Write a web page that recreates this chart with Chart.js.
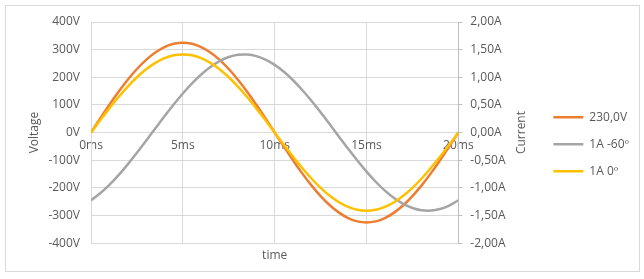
<!DOCTYPE html>
<html>
<head>
<meta charset="utf-8">
<script src="https://cdn.jsdelivr.net/npm/chart.js@4"></script>
<style>
  html, body { margin: 0; padding: 0; background: #fff; }
  #wrap { position: relative; width: 644px; height: 279px; }
  #frame { position: absolute; left: 5px; top: 5px; width: 635px; height: 267px; border: 1px solid #D9D9D9; box-sizing: border-box; pointer-events: none; }
  canvas { position: absolute; left: 0; top: 0; }
</style>
</head>
<body>
<div id="wrap">
  <canvas id="c" width="644" height="279"></canvas>
  <div id="frame"></div>
</div>
<script>
// time in ms
const times = [0,0.5,1,1.5,2,2.5,3,3.5,4,4.5,5,5.5,6,6.5,7,7.5,8,8.5,9,9.5,10,10.5,11,11.5,12,12.5,13,13.5,14,14.5,15,15.5,16,16.5,17,17.5,18,18.5,19,19.5,20];
// 230,0V (volts)
const voltage = [0,50.9,100.5,147.7,191.2,230.0,263.2,289.8,309.4,321.3,325.3,321.3,309.4,289.8,263.2,230.0,191.2,147.7,100.5,50.9,0,-50.9,-100.5,-147.7,-191.2,-230.0,-263.2,-289.8,-309.4,-321.3,-325.3,-321.3,-309.4,-289.8,-263.2,-230.0,-191.2,-147.7,-100.5,-50.9,0];
// 1A -60º (amps)
const currentM60 = [-1.225,-1.099,-0.946,-0.770,-0.575,-0.366,-0.148,0.074,0.294,0.507,0.707,0.890,1.051,1.186,1.292,1.366,1.406,1.412,1.383,1.320,1.225,1.099,0.946,0.770,0.575,0.366,0.148,-0.074,-0.294,-0.507,-0.707,-0.890,-1.051,-1.186,-1.292,-1.366,-1.406,-1.412,-1.383,-1.320,-1.225];
// 1A 0º (amps)
const current0 = [0,0.221,0.437,0.642,0.831,1.000,1.144,1.260,1.345,1.397,1.414,1.397,1.345,1.260,1.144,1.000,0.831,0.642,0.437,0.221,0,-0.221,-0.437,-0.642,-0.831,-1.000,-1.144,-1.260,-1.345,-1.397,-1.414,-1.397,-1.345,-1.260,-1.144,-1.000,-0.831,-0.642,-0.437,-0.221,0];
const seriesNames = ['230,0V', '1A -60º', '1A 0º'];

const pts = arr => times.map((t, i) => ({x: t, y: arr[i]}));
const FONT = {family: "'Open Sans', sans-serif", size: 12};
const TXT = '#595959';

// widen legend box slightly (moves legend items left)
const legendWiden = {
  id: 'legendWiden',
  afterInit(chart) {
    const lg = chart.legend;
    if (lg && !lg._widened) {
      const orig = lg.fit;
      lg.fit = function () { orig.call(this); this.width += 5; };
      lg._widened = true;
    }
  }
};
// right axis title, reading bottom-to-top
const rightTitle = {
  id: 'rightTitle',
  afterDraw(chart) {
    const s = chart.scales.y1, ca = chart.chartArea, ctx = chart.ctx;
    ctx.save();
    ctx.translate(s.right - 17, (ca.top + ca.bottom) / 2);
    ctx.rotate(-Math.PI / 2);
    ctx.font = "12px 'Open Sans', sans-serif";
    ctx.fillStyle = TXT;
    ctx.textAlign = 'center';
    ctx.textBaseline = 'middle';
    ctx.fillText('Current', 0, 0);
    ctx.restore();
  }
};

new Chart(document.getElementById('c'), {
  type: 'line',
  data: {
    datasets: [
      {label: seriesNames[0], data: pts(voltage), yAxisID: 'y', borderColor: '#ED7D31', backgroundColor: '#ED7D31', borderWidth: 2.5, order: 2},
      {label: seriesNames[1], data: pts(currentM60), yAxisID: 'y1', borderColor: '#A5A5A5', backgroundColor: '#A5A5A5', borderWidth: 2.5, order: 1},
      {label: seriesNames[2], data: pts(current0), yAxisID: 'y1', borderColor: '#FFC000', backgroundColor: '#FFC000', borderWidth: 2.5, order: 0}
    ]
  },
  plugins: [legendWiden, rightTitle],
  options: {
    responsive: false,
    animation: false,
    devicePixelRatio: 1,
    elements: {
      line: {borderWidth: 2.5, tension: 0.4, fill: false},
      point: {radius: 0}
    },
    layout: {padding: {left: 22, right: 0, top: 22, bottom: 12.5}},
    plugins: {
      tooltip: {enabled: false},
      legend: {
        position: 'right',
        labels: {
          usePointStyle: true,
          pointStyle: 'line',
          pointStyleWidth: 30,
          padding: 15,
          color: TXT,
          font: FONT,
          sort: (a, b) => a.datasetIndex - b.datasetIndex
        }
      }
    },
    scales: {
      x: {
        type: 'linear',
        position: {y: 0},
        min: 0, max: 20,
        ticks: {stepSize: 5, color: TXT, font: FONT, padding: 6, maxRotation: 0, callback: v => v + 'ms'},
        grid: {color: '#D9D9D9', drawTicks: false},
        border: {display: false}
      },
      x2: {
        type: 'linear',
        position: 'bottom',
        min: 0, max: 20,
        ticks: {display: false},
        grid: {display: false, drawTicks: false},
        border: {display: false},
        title: {display: true, text: 'time', color: TXT, font: FONT, padding: {top: 5, bottom: 4}}
      },
      y: {
        position: 'left',
        min: -400, max: 400,
        afterFit: s => { s.width = 69; },
        ticks: {stepSize: 100, color: TXT, font: FONT, padding: 11, callback: v => v + 'V'},
        grid: {color: '#D9D9D9', drawTicks: false},
        border: {color: '#D9D9D9'},
        title: {display: true, text: 'Voltage', color: TXT, font: FONT, padding: {top: 5, bottom: 0}}
      },
      y1: {
        position: 'right',
        min: -2, max: 2,
        afterFit: s => { s.width = 80; },
        ticks: {stepSize: 0.5, color: TXT, font: FONT, padding: 8, callback: v => v.toFixed(2).replace('.', ',') + 'A'},
        grid: {drawOnChartArea: false, color: '#BFBFBF', tickLength: 4},
        border: {color: '#BFBFBF'}
      }
    }
  }
});
</script>
</body>
</html>
